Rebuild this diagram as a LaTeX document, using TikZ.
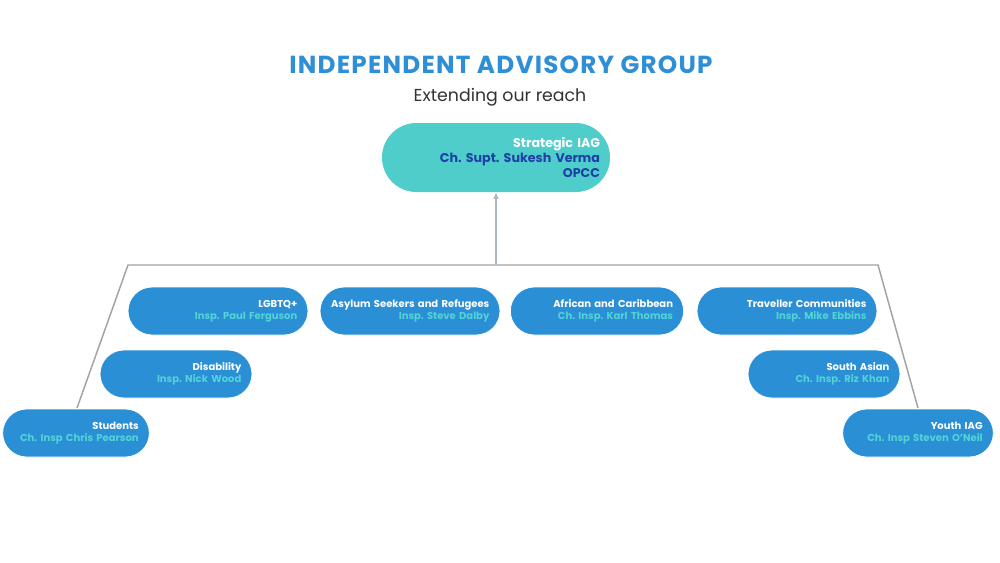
\documentclass[tikz,border=0pt]{standalone}
\usepackage{fontspec}
\setmainfont{Poppins}
\usetikzlibrary{arrows.meta}
\definecolor{boxblue}{HTML}{2B8FD6}
\definecolor{subteal}{HTML}{52D3D6}
\definecolor{topteal}{HTML}{4ECDCB}
\definecolor{darkblue}{HTML}{1E40A6}
\definecolor{titleblue}{HTML}{2E8FD6}
\definecolor{linegray}{HTML}{A3A3A3}
\definecolor{arrowgray}{HTML}{AEB8C2}
\definecolor{subgray}{HTML}{333333}
\frenchspacing
\tikzset{
  pill/.style={rectangle, rounded corners=18pt, fill=boxblue, draw=white, line width=0.6pt,
    minimum height=36pt, inner xsep=8pt, inner ysep=0pt, align=right,
    font=\fontsize{7.5}{9}\selectfont\bfseries, text=white},
  toppill/.style={rectangle, rounded corners=25.8pt, fill=topteal,
    minimum height=51.75pt, minimum width=171pt, text width=156pt, inner xsep=7.5pt,
    align=right, font=\fontsize{9.5}{11.25}\selectfont\bfseries, text=white},
  conn/.style={draw=linegray, line width=1.1pt},
  arr/.style={draw=arrowgray, line width=1.3pt, -{Latex[length=5pt,width=4.5pt]}},
}
\newcommand{\sub}[1]{\textcolor{subteal}{#1}}
\newcommand{\dk}[1]{\textcolor{darkblue}{#1}}
\begin{document}
\begin{tikzpicture}[x=0.75pt,y=-0.75pt]
\path[use as bounding box, fill=white] (0,0) rectangle (1000,562);

\node[font=\fontsize{18.5}{20}\selectfont\bfseries\addfontfeatures{LetterSpace=5}, text=titleblue] (title) at (501,65) {INDEPENDENT ADVISORY GROUP};
\node[font=\fontsize{13}{15}\selectfont, text=subgray] (subtitle) at (500,97) {Extending our reach};

\node[toppill] (top) at (496,157.5) {Strategic IAG\\\dk{Ch. Supt. Sukesh Verma}\\\dk{OPCC}};

\coordinate (bl) at (77,408);
\coordinate (tl) at (128,265);
\coordinate (tr) at (878,265);
\coordinate (br) at (918,408);
\coordinate (mid) at (496,265);
\path[conn] (bl) -- (tl) -- (tr) -- (br);
\path[arr] (mid) -- (top.south);

\node[pill, minimum width=135pt, text width=119pt] (lgbt) at (218,311) {LGBTQ+\\\sub{Insp. Paul Ferguson}};
\node[pill, minimum width=135pt, text width=119pt] (asylum) at (410,311) {Asylum Seekers and Refugees\\\sub{Insp. Steve Dalby}};
\node[pill, minimum width=130pt, text width=114pt] (african) at (597,311) {African and Caribbean\\\sub{Ch. Insp. Karl Thomas}};
\node[pill, minimum width=135pt, text width=119pt] (traveller) at (787,311) {Traveller Communities\\\sub{Insp. Mike Ebbins}};
\node[pill, minimum width=114pt, text width=98pt] (disab) at (176,374) {Disability\\\sub{Insp. Nick Wood}};
\node[pill, minimum width=114pt, text width=98pt] (southasian) at (824,374) {South Asian\\\sub{Ch. Insp. Riz Khan}};
\node[pill, minimum width=110pt, text width=94pt] (students) at (76,433) {Students\\\sub{Ch. Insp Chris Pearson}};
\node[pill, minimum width=113pt, text width=97pt] (youth) at (918,433) {Youth IAG\\\sub{Ch. Insp Steven O'Neil}};
\end{tikzpicture}
\end{document}
